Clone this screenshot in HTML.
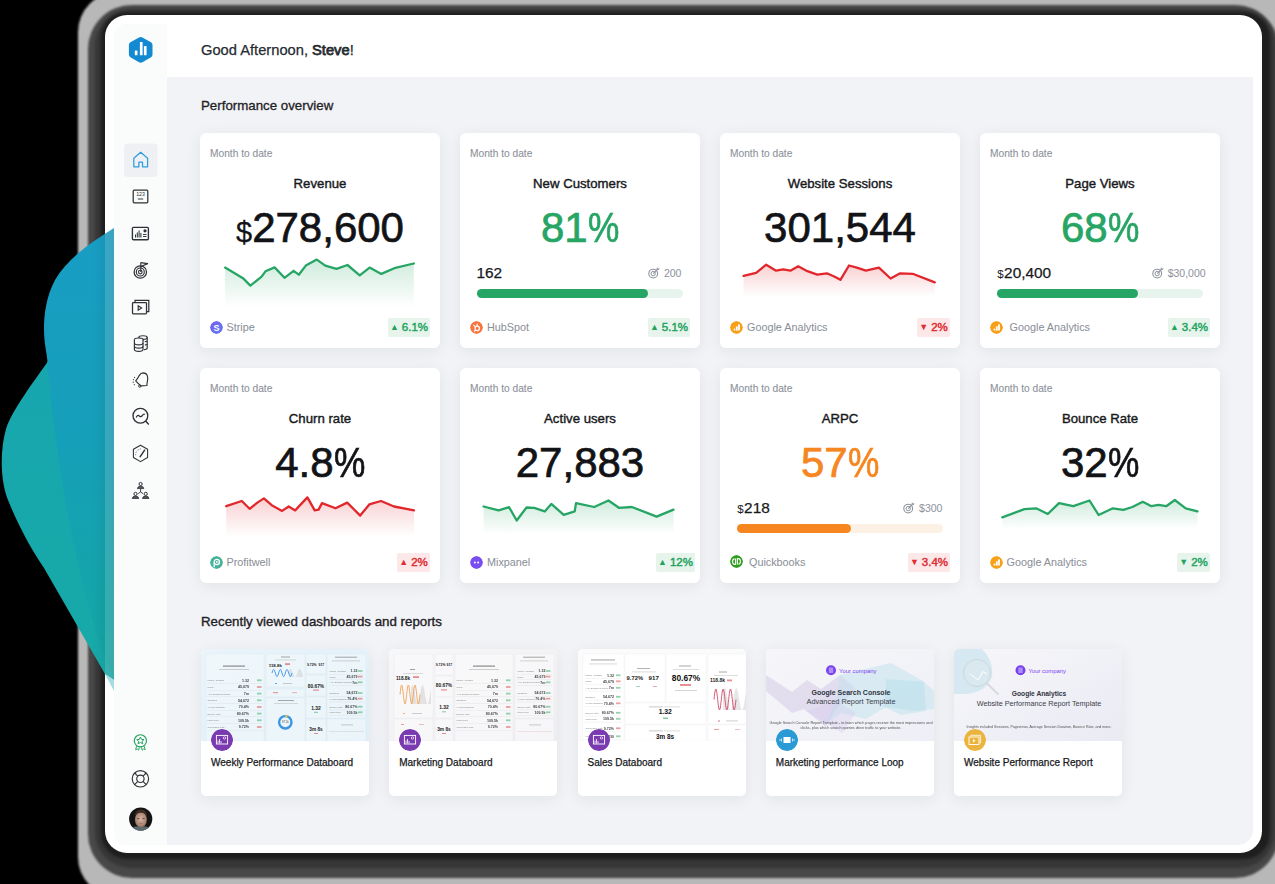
<!DOCTYPE html>
<html><head><meta charset="utf-8"><style>
*{box-sizing:border-box;margin:0;padding:0}
html,body{width:1275px;height:884px;overflow:hidden;background:#000;font-family:"Liberation Sans",sans-serif;color:#1b1d21}
.a{position:absolute}
#so{position:absolute;left:78px;top:-8px;width:1240px;height:905px;border-radius:40px;background:#b8b8b8;filter:blur(1px)}
#d1{position:absolute;left:88px;top:5px;width:1191px;height:873px;border-radius:44px;background:#484848;filter:blur(1.2px)}
#d2{position:absolute;left:95px;top:9px;width:1180px;height:859px;border-radius:36px;background:#363636;filter:blur(1.5px)}
#d3{position:absolute;left:101px;top:12px;width:1169px;height:847px;border-radius:26px;background:#1e1e1e;filter:blur(1.5px)}
#frame{position:absolute;left:105px;top:15px;width:1157px;height:838px;border-radius:22px;background:#fff}
#sidebar{position:absolute;left:114px;top:24px;width:53px;height:821px;background:#fafbfb;border-radius:12px 0 0 12px}
#header{position:absolute;left:167px;top:24px;width:1086px;height:53px;background:#fff}
#main{position:absolute;left:167px;top:77px;width:1086px;height:768px;background:#f2f3f6;border-radius:0 0 15px 0}
.card{position:absolute;width:240px;height:215px;background:#fff;border-radius:6px;box-shadow:0 3px 16px rgba(20,30,50,0.07)}
.mtd{position:absolute;left:10px;top:14.8px;font-size:10.2px;color:#8d929b;white-space:nowrap;-webkit-text-stroke:0.1px #8d929b}
.ttl{position:absolute;left:0;width:240px;top:42.5px;text-align:center;font-size:13.2px;color:#17191c;-webkit-text-stroke:0.4px #17191c;white-space:nowrap}
.big{position:absolute;left:0;width:240px;top:72.3px;text-align:center;font-size:42px;line-height:46px;color:#121316;white-space:nowrap;-webkit-text-stroke:0.7px currentColor}
.big .pc{display:inline-block;transform:scaleX(0.84);transform-origin:0 0;margin-right:-6px}
.big .d{font-size:29px;-webkit-text-stroke:0.3px currentColor}
.spark{position:absolute;left:0;top:0}
.src{position:absolute;left:10px;top:187px;height:14px;font-size:10.8px;color:#8b8f98;white-space:nowrap;line-height:14px;-webkit-text-stroke:0.05px #8b8f98}
.src .ic{position:absolute;left:0;top:0.5px;width:13px;height:13px;border-radius:50%}
.src span.t{position:absolute;left:17px;top:0}
.badge{position:absolute;top:185px;height:19px;border-radius:2px;font-size:11.5px;line-height:19px;text-align:center;white-space:nowrap;-webkit-text-stroke:0.45px currentColor}
.bg{background:#e6f4ec;color:#22a35e}
.br{background:#fde8e9;color:#df2a30}
.tri{display:inline-block;font-size:9px;vertical-align:1px;margin-right:3px;-webkit-text-stroke:0}
.pv{position:absolute;left:16.5px;top:131.2px;font-size:15.4px;color:#17191c;-webkit-text-stroke:0.25px #17191c;white-space:nowrap}
.pv .d{font-size:11.5px;-webkit-text-stroke:0;margin-left:0.8px;margin-right:0.4px}
.goal{position:absolute;right:17px;top:133.6px;font-size:10.5px;color:#8f949d;white-space:nowrap;-webkit-text-stroke:0.05px #8f949d}
.bar{position:absolute;left:17px;top:156px;width:206px;height:9px;border-radius:5px}
.bar i{position:absolute;left:0;top:0;height:9px;border-radius:5px}
.h1{position:absolute;left:201px;top:41.5px;font-size:14.7px;color:#262a31;white-space:nowrap;-webkit-text-stroke:0.25px #262a31}
.h2{position:absolute;left:201px;top:98px;font-size:13.3px;color:#1e2126;-webkit-text-stroke:0.3px #1e2126;white-space:nowrap}
.h3{position:absolute;left:201px;top:614px;font-size:13.3px;color:#1e2126;-webkit-text-stroke:0.35px #1e2126;white-space:nowrap}
.th{position:absolute;top:649px;width:168px;height:147px;background:#fff;border-radius:5px;overflow:hidden;box-shadow:0 3px 16px rgba(20,30,50,0.07)}
.th .img{position:absolute;left:0;top:0;width:168px;height:92px;overflow:hidden}
.th .tic{position:absolute;left:10px;top:80px;width:22px;height:22px;border-radius:50%}
.th .tt{position:absolute;left:10px;top:107.8px;font-size:10px;color:#17191c;-webkit-text-stroke:0.25px #17191c;white-space:nowrap}
.nav{position:absolute;left:128px;width:26px;height:26px}
</style></head><body>

<div id="so"></div>
<div id="d1"></div>
<div id="d2"></div>
<div id="d3"></div>
<div id="frame"></div>
<svg class="a" style="left:0;top:0" width="114" height="884" viewBox="0 0 114 884">
<defs>
<linearGradient id="gb" x1="0" y1="229" x2="0" y2="690" gradientUnits="userSpaceOnUse"><stop offset="0" stop-color="#189dc4"/><stop offset="0.45" stop-color="#169fb9"/><stop offset="0.8" stop-color="#14a5aa"/><stop offset="1" stop-color="#15a6a6"/></linearGradient>
<linearGradient id="gt" x1="0" y1="360" x2="0" y2="690" gradientUnits="userSpaceOnUse"><stop offset="0" stop-color="#17a6ae"/><stop offset="1" stop-color="#17aaa8"/></linearGradient>
<linearGradient id="gs" x1="0" y1="0" x2="114" y2="0" gradientUnits="userSpaceOnUse"><stop offset="0.8" stop-color="#000" stop-opacity="0"/><stop offset="1" stop-color="#000" stop-opacity="0.08"/></linearGradient>
</defs>
<path d="M114 300 L47.5 362 C35 380 12 410 6 429 C0 450 0 480 8 500 C20 530 35 555 44 568 L105 674 L114 680 Z" fill="url(#gt)"/>
<path d="M114 228 C90 243 68 258 55 280 C46 297 44 315 44 329 C44 345 47.5 355 47.5 363 C55 450 75 590 114 680 Z" fill="url(#gb)"/>
<path d="M114 228 C90 243 68 258 55 280 C46 297 44 315 44 329 C44 345 47.5 355 47.5 363 C35 380 12 410 6 429 C0 450 0 480 8 500 C20 530 35 555 44 568 L105 674 L114 680 Z" fill="url(#gs)"/>
<path d="M105 233 L114 227 L114 680 L105 674 Z" fill="#e6ffff" fill-opacity="0.17"/><path d="M105 674 L114 680 L114 691 Z" fill="#9ad8df" fill-opacity="0.9"/>
</svg>
<div id="sidebar"></div>
<div id="header"></div>
<div id="main"></div>


<svg class="a" style="left:0;top:0" width="1275" height="884" viewBox="0 0 1275 884">
<!-- logo -->
<path d="M140.7 36.9 Q141.6 36.9 142.4 37.4 L151 42.3 Q152.5 43.2 152.5 45 L152.5 54.6 Q152.5 56.4 151 57.3 L142.4 62.2 Q140.7 63.1 139 62.2 L130.4 57.3 Q128.9 56.4 128.9 54.6 L128.9 45 Q128.9 43.2 130.4 42.3 L139 37.4 Q139.8 36.9 140.7 36.9 Z" fill="#1389d1"/>
<rect x="134.8" y="50.5" width="2.7" height="4.8" rx="0.5" fill="#fff"/>
<rect x="139.9" y="42" width="2.7" height="13.3" rx="0.5" fill="#fff"/>
<rect x="143.9" y="46.1" width="2.7" height="9.2" rx="0.5" fill="#fff"/>
<!-- home selected -->
<rect x="124" y="143.5" width="33.5" height="33.5" rx="4" fill="#eef0f3"/>
<path d="M133.8 166.8 L133.8 158.2 L140.7 152.3 L147.6 158.2 L147.6 166.8 L142.5 166.8 L142.5 162.2 L138.9 162.2 L138.9 166.8 Z" fill="none" stroke="#2c9de0" stroke-width="1.25" stroke-linejoin="round"/>
<!-- 123 -->
<rect x="133.2" y="190.2" width="14.6" height="12.6" rx="1" fill="none" stroke="#2e3136" stroke-width="1.25"/>
<text x="140.5" y="196.4" font-size="5.2" text-anchor="middle" fill="#2e3136" font-family="Liberation Sans">123</text>
<line x1="137.8" y1="199" x2="143.2" y2="199" stroke="#2e3136" stroke-width="0.95"/>
<!-- chart -->
<rect x="132.4" y="227.3" width="16" height="12.4" rx="1" fill="none" stroke="#2e3136" stroke-width="1.35"/>
<line x1="135.5" y1="237.5" x2="135.5" y2="234.5" stroke="#2e3136" stroke-width="1.05"/>
<line x1="137.3" y1="237.5" x2="137.3" y2="232.5" stroke="#2e3136" stroke-width="1.05"/>
<line x1="139.1" y1="237.5" x2="139.1" y2="230.5" stroke="#2e3136" stroke-width="1.05"/>
<line x1="140.9" y1="237.5" x2="140.9" y2="233" stroke="#2e3136" stroke-width="1.05"/>
<circle cx="145" cy="230.8" r="1.6" fill="#2e3136"/>
<line x1="143" y1="234.5" x2="146.5" y2="234.5" stroke="#2e3136" stroke-width="0.95"/>
<line x1="143" y1="236.5" x2="146.5" y2="236.5" stroke="#2e3136" stroke-width="0.95"/>
<!-- target -->
<circle cx="140.3" cy="272" r="6.2" fill="none" stroke="#2e3136" stroke-width="1.25"/>
<circle cx="140.3" cy="272" r="4" fill="none" stroke="#2e3136" stroke-width="1.15"/>
<circle cx="140.3" cy="272" r="1.8" fill="none" stroke="#2e3136" stroke-width="1.15"/>
<line x1="140.8" y1="272" x2="140.8" y2="262.5" stroke="#2e3136" stroke-width="1.15"/>
<path d="M140.8 262.6 L147.6 263.6 L141 266.5" fill="none" stroke="#2e3136" stroke-width="1.15" stroke-linejoin="round"/>
<!-- video -->
<path d="M135 302 L135 300.3 L148.8 300.3 L148.8 311.5 L146.6 311.5" fill="none" stroke="#2e3136" stroke-width="1.25"/>
<rect x="132.5" y="302.5" width="14" height="11.3" rx="0.8" fill="#fafbfb" stroke="#2e3136" stroke-width="1.25"/>
<path d="M138.2 305.8 L141.6 308 L138.2 310.2 Z" fill="none" stroke="#2e3136" stroke-width="1.15"/>
<!-- database -->
<ellipse cx="143" cy="337.5" rx="4.2" ry="1.8" fill="none" stroke="#2e3136" stroke-width="1.15"/>
<path d="M138.8 337.5 L138.8 348 M147.2 337.5 L147.2 348 Q147.2 349.5 144 349.8" fill="none" stroke="#2e3136" stroke-width="1.15"/>
<path d="M144.8 341.6 Q147.2 341.2 147.2 341 M144.8 345 Q147.2 344.6 147.2 344.4" fill="none" stroke="#2e3136" stroke-width="1.15"/>
<ellipse cx="138.7" cy="339.8" rx="4.3" ry="1.8" fill="#fafbfb" stroke="#2e3136" stroke-width="1.15"/>
<path d="M134.4 339.8 L134.4 349.5 Q134.4 351.3 138.7 351.3 Q143 351.3 143 349.5 L143 339.8" fill="#fafbfb" stroke="#2e3136" stroke-width="1.15"/>
<path d="M134.4 343 Q134.4 344.8 138.7 344.8 Q143 344.8 143 343 M134.4 346.3 Q134.4 348.1 138.7 348.1 Q143 348.1 143 346.3" fill="none" stroke="#2e3136" stroke-width="1.15"/>
<!-- bell -->
<path d="M135.7 380.8 Q137.8 378.6 139.2 375.6 Q140.8 372.9 143.2 372.9 Q146.2 373 147.3 375.6 Q148.3 378.2 147.4 381.4 Q146.9 383.4 146.9 385.5 L141 385.9 Q138.2 383.6 135.7 380.8 Z" fill="none" stroke="#2e3136" stroke-width="1.15" stroke-linejoin="round"/>
<circle cx="139.8" cy="386.1" r="1.15" fill="none" stroke="#2e3136" stroke-width="1"/>
<circle cx="134.5" cy="377.3" r="0.6" fill="#2e3136"/><circle cx="133.4" cy="379.6" r="0.6" fill="#2e3136"/><circle cx="133.2" cy="382.2" r="0.6" fill="#2e3136"/><circle cx="134.3" cy="384.6" r="0.6" fill="#2e3136"/>
<!-- search chart -->
<circle cx="140.4" cy="415.8" r="7.4" fill="none" stroke="#2e3136" stroke-width="1.35"/>
<line x1="145.6" y1="421" x2="148.8" y2="424.4" stroke="#2e3136" stroke-width="1.45"/>
<path d="M136.2 417.4 Q137.6 414.2 139.4 416 Q141 417.8 142.6 415.2 Q143.6 413.6 144.8 414.6" fill="none" stroke="#2e3136" stroke-width="1.25"/>
<!-- hexagon gauge -->
<path d="M140.5 445.2 L147.6 449.3 L147.6 457.5 L140.5 461.6 L133.4 457.5 L133.4 449.3 Z" fill="none" stroke="#2e3136" stroke-width="1.05" stroke-linejoin="round"/>
<line x1="140.2" y1="456.6" x2="144.6" y2="450.2" stroke="#2e3136" stroke-width="1.5" stroke-linecap="round"/>
<path d="M135.6 455.2 Q135.6 449.6 141.8 448.6" fill="none" stroke="#2e3136" stroke-width="0.7" stroke-dasharray="0.9 1.1"/>
<!-- org -->
<circle cx="140.6" cy="484" r="1.6" fill="none" stroke="#2e3136" stroke-width="1"/>
<path d="M137.4 488.6 Q137.6 486.2 140.6 486.2 Q143.6 486.2 143.8 488.6 Z" fill="#55585d" stroke="#2e3136" stroke-width="0.8" stroke-linejoin="round"/>
<line x1="140.6" y1="488.8" x2="140.6" y2="492" stroke="#2e3136" stroke-width="0.9"/>
<line x1="140.6" y1="492" x2="138.2" y2="493.6" stroke="#2e3136" stroke-width="0.9"/>
<line x1="140.6" y1="492" x2="143" y2="493.6" stroke="#2e3136" stroke-width="0.9"/>
<circle cx="135.5" cy="493.9" r="1.6" fill="none" stroke="#2e3136" stroke-width="1"/>
<path d="M132.3 498.5 Q132.5 496.1 135.5 496.1 Q138.5 496.1 138.7 498.5 Z" fill="#55585d" stroke="#2e3136" stroke-width="0.8" stroke-linejoin="round"/>
<circle cx="145.7" cy="493.9" r="1.6" fill="none" stroke="#2e3136" stroke-width="1"/>
<path d="M142.5 498.5 Q142.7 496.1 145.7 496.1 Q148.7 496.1 148.9 498.5 Z" fill="#55585d" stroke="#2e3136" stroke-width="0.8" stroke-linejoin="round"/>
<!-- award -->
<circle cx="140.4" cy="740.8" r="6.1" fill="none" stroke="#22a35e" stroke-width="1.15"/>
<path d="M140.4 737 L141.5 739.4 L144 739.6 L142.1 741.3 L142.7 743.8 L140.4 742.5 L138.1 743.8 L138.7 741.3 L136.8 739.6 L139.3 739.4 Z" fill="none" stroke="#22a35e" stroke-width="1" stroke-linejoin="round"/>
<path d="M136.6 746.2 L135.6 749.6 L137.4 749 L138.6 750.2 L139.4 747.2 M144.2 746.2 L145.2 749.6 L143.4 749 L142.2 750.2 L141.4 747.2" fill="none" stroke="#22a35e" stroke-width="0.95" stroke-linejoin="round"/>
<!-- help -->
<circle cx="140.4" cy="778.8" r="8.2" fill="none" stroke="#2e3136" stroke-width="1.15"/>
<circle cx="140.4" cy="778.8" r="3.7" fill="none" stroke="#2e3136" stroke-width="1.15"/>
<line x1="134.6" y1="773" x2="137.8" y2="776.2" stroke="#2e3136" stroke-width="1.1"/>
<line x1="146.2" y1="773" x2="143" y2="776.2" stroke="#2e3136" stroke-width="1.1"/>
<line x1="134.6" y1="784.6" x2="137.8" y2="781.4" stroke="#2e3136" stroke-width="1.1"/>
<line x1="146.2" y1="784.6" x2="143" y2="781.4" stroke="#2e3136" stroke-width="1.1"/>
<!-- avatar -->
<defs>
<clipPath id="avc"><circle cx="140.7" cy="819" r="11.6"/></clipPath>
<radialGradient id="skin" cx="0.5" cy="0.45" r="0.6"><stop offset="0" stop-color="#d8b5a2"/><stop offset="0.7" stop-color="#aa8573"/><stop offset="1" stop-color="#6a4f40"/></radialGradient>
</defs>
<circle cx="140.7" cy="819" r="11.6" fill="#141414"/>
<g clip-path="url(#avc)">
<path d="M129 833 Q132 826 136.5 826.5 L145 826.5 Q149.5 826 152.5 833 Z" fill="#5b6a70"/>
<ellipse cx="140.9" cy="819.8" rx="6" ry="7.8" fill="url(#skin)"/>
<path d="M134.9 816.5 Q134.6 809.8 140.9 809.5 Q147.2 809.8 146.9 816.5 Q145.5 812.6 140.9 812.8 Q136.3 812.6 134.9 816.5Z" fill="#3e2c22"/>
<path d="M137.2 818.6 L139.4 818.6 M142.4 818.6 L144.6 818.6" stroke="#3a2a22" stroke-width="0.7"/>
<path d="M139.5 823.4 L142.3 823.4" stroke="#8a5a4a" stroke-width="0.6"/>
</g>
</svg>

<div class="h1">Good Afternoon, <b style="font-weight:normal;-webkit-text-stroke:0.75px #262a31">Steve</b>!</div>
<div class="h2">Performance overview</div>
<div class="card" style="left:200px;top:133px">
<div class="mtd">Month to date</div>
<div class="ttl">Revenue</div>
<div class="big" style="color:#121316"><span class="d">$</span>278,600</div>
<svg class="spark" width="240" height="215" viewBox="0 0 240 215">
<defs><linearGradient id="g200_133" x1="0" y1="126.6" x2="0" y2="174.2" gradientUnits="userSpaceOnUse"><stop offset="0" stop-color="#26a564" stop-opacity="0.22"/><stop offset="1" stop-color="#26a564" stop-opacity="0"/></linearGradient></defs>
<path d="M25.1,174.2 L25.1,134.6 L43.4,145.6 L50.4,152.6 L61.6,143.7 L65.5,138.3 L74.6,134.4 L84.5,144.8 L93.6,137.8 L98.8,141.7 L105.8,132.6 L116.8,126.6 L125.3,132.6 L136.5,135.9 L147.5,132.0 L159.7,142.4 L169.6,134.6 L181.3,140.9 L194.3,135.2 L213.8,130.5 L213.8,174.2 Z" fill="url(#g200_133)"/>
<polyline points="25.1,134.6 43.4,145.6 50.4,152.6 61.6,143.7 65.5,138.3 74.6,134.4 84.5,144.8 93.6,137.8 98.8,141.7 105.8,132.6 116.8,126.6 125.3,132.6 136.5,135.9 147.5,132.0 159.7,142.4 169.6,134.6 181.3,140.9 194.3,135.2 213.8,130.5" fill="none" stroke="#26a564" stroke-width="2.3" stroke-linejoin="round" stroke-linecap="round"/>
</svg>
<div class="src"><svg class="ic" width="13" height="13" viewBox="0 0 13 13"><defs><linearGradient id="stg" x1="0" y1="0" x2="1" y2="1"><stop offset="0" stop-color="#7a5cf0"/><stop offset="1" stop-color="#5b7cf5"/></linearGradient></defs><circle cx="6.5" cy="6.5" r="6.5" fill="url(#stg)"/><text x="6.5" y="9.6" font-size="9" font-weight="bold" text-anchor="middle" fill="#fff" font-family="Liberation Sans">S</text></svg><span class="t" style="left:16.5px">Stripe</span></div>
<div class="badge bg" style="left:188px;width:42px"><span class="tri">&#9650;</span>6.1%</div>
</div>
<div class="card" style="left:460px;top:133px">
<div class="mtd">Month to date</div>
<div class="ttl">New Customers</div>
<div class="big" style="color:#26a564">81<span class="pc">%</span></div>
<div class="pv">162</div>
<div class="goal" style="right:18.6px"><svg width="12" height="12" viewBox="0 0 12 12" style="position:absolute;left:-15.8px;top:0.9px"><circle cx="5.2" cy="6.6" r="4.4" fill="none" stroke="#8f949d" stroke-width="1.1"/><circle cx="5.2" cy="6.6" r="2.2" fill="none" stroke="#8f949d" stroke-width="1"/><line x1="5.2" y1="6.6" x2="9.8" y2="2" stroke="#8f949d" stroke-width="1.1"/><path d="M8.6 2.4 L8.9 0.2 L10.1 1.4 L11.9 1.6 L10.4 3.1 Z" fill="#8f949d"/></svg>200</div>
<div class="bar" style="background:#e7f4ed"><i style="width:171px;background:#26a564"></i></div>
<div class="src"><svg class="ic" width="13" height="13" viewBox="0 0 13 13"><circle cx="6.5" cy="6.5" r="6.5" fill="#f8763f"/><circle cx="7.2" cy="7.4" r="2.2" fill="none" stroke="#fff" stroke-width="1.2"/><line x1="7.2" y1="5.2" x2="7.2" y2="2.8" stroke="#fff" stroke-width="1.1"/><line x1="5.6" y1="5.8" x2="3.4" y2="3.8" stroke="#fff" stroke-width="1.1"/><line x1="5.6" y1="9" x2="4" y2="10.6" stroke="#fff" stroke-width="1.1"/></svg><span class="t" style="left:17px">HubSpot</span></div>
<div class="badge bg" style="left:188px;width:42px"><span class="tri">&#9650;</span>5.1%</div>
</div>
<div class="card" style="left:720px;top:133px">
<div class="mtd">Month to date</div>
<div class="ttl">Website Sessions</div>
<div class="big" style="color:#121316">301,544</div>
<svg class="spark" width="240" height="215" viewBox="0 0 240 215">
<defs><linearGradient id="g720_133" x1="0" y1="131.7" x2="0" y2="163.7" gradientUnits="userSpaceOnUse"><stop offset="0" stop-color="#e2272c" stop-opacity="0.22"/><stop offset="1" stop-color="#e2272c" stop-opacity="0"/></linearGradient></defs>
<path d="M23.6,163.7 L23.6,142.9 L36.1,139.8 L46.2,131.7 L56.1,137.7 L63.2,136.4 L70.4,137.7 L78.2,133.3 L87.4,138.2 L97.2,141.6 L106.9,140.3 L114.7,143.7 L120.4,146.8 L129.0,132.5 L136.8,134.6 L145.9,137.7 L158.9,134.6 L170.6,145.5 L180.2,140.3 L192.7,140.8 L214.8,149.4 L214.8,163.7 Z" fill="url(#g720_133)"/>
<polyline points="23.6,142.9 36.1,139.8 46.2,131.7 56.1,137.7 63.2,136.4 70.4,137.7 78.2,133.3 87.4,138.2 97.2,141.6 106.9,140.3 114.7,143.7 120.4,146.8 129.0,132.5 136.8,134.6 145.9,137.7 158.9,134.6 170.6,145.5 180.2,140.3 192.7,140.8 214.8,149.4" fill="none" stroke="#e2272c" stroke-width="2.3" stroke-linejoin="round" stroke-linecap="round"/>
</svg>
<div class="src"><svg class="ic" width="13" height="13" viewBox="0 0 13 13"><circle cx="6.5" cy="6.5" r="6.5" fill="#f7a11a"/><rect x="3.6" y="7.6" width="1.8" height="2" rx="0.9" fill="#fff"/><rect x="5.9" y="5.4" width="1.8" height="4.2" fill="#fff"/><rect x="8.1" y="3.2" width="1.8" height="6.4" rx="0.5" fill="#fff"/></svg><span class="t" style="left:17px">Google Analytics</span></div>
<div class="badge br" style="left:197px;width:33px"><span class="tri">&#9660;</span>2%</div>
</div>
<div class="card" style="left:980px;top:133px">
<div class="mtd">Month to date</div>
<div class="ttl">Page Views</div>
<div class="big" style="color:#26a564">68<span class="pc">%</span></div>
<div class="pv"><span class="d">$</span>20,400</div>
<div class="goal" style="right:14.4px"><svg width="12" height="12" viewBox="0 0 12 12" style="position:absolute;left:-15.8px;top:0.9px"><circle cx="5.2" cy="6.6" r="4.4" fill="none" stroke="#8f949d" stroke-width="1.1"/><circle cx="5.2" cy="6.6" r="2.2" fill="none" stroke="#8f949d" stroke-width="1"/><line x1="5.2" y1="6.6" x2="9.8" y2="2" stroke="#8f949d" stroke-width="1.1"/><path d="M8.6 2.4 L8.9 0.2 L10.1 1.4 L11.9 1.6 L10.4 3.1 Z" fill="#8f949d"/></svg>$30,000</div>
<div class="bar" style="background:#e7f4ed"><i style="width:141px;background:#26a564"></i></div>
<div class="src"><svg class="ic" width="13" height="13" viewBox="0 0 13 13"><circle cx="6.5" cy="6.5" r="6.5" fill="#f7a11a"/><rect x="3.6" y="7.6" width="1.8" height="2" rx="0.9" fill="#fff"/><rect x="5.9" y="5.4" width="1.8" height="4.2" fill="#fff"/><rect x="8.1" y="3.2" width="1.8" height="6.4" rx="0.5" fill="#fff"/></svg><span class="t" style="left:19.6px">Google Analytics</span></div>
<div class="badge bg" style="left:188px;width:42px"><span class="tri">&#9650;</span>3.4%</div>
</div>
<div class="card" style="left:200px;top:368px">
<div class="mtd">Month to date</div>
<div class="ttl">Churn rate</div>
<div class="big" style="color:#121316">4.8<span class="pc">%</span></div>
<svg class="spark" width="240" height="215" viewBox="0 0 240 215">
<defs><linearGradient id="g200_368" x1="0" y1="129.4" x2="0" y2="168.9" gradientUnits="userSpaceOnUse"><stop offset="0" stop-color="#e2272c" stop-opacity="0.22"/><stop offset="1" stop-color="#e2272c" stop-opacity="0"/></linearGradient></defs>
<path d="M26.2,168.9 L26.2,138.2 L41.8,133.0 L49.6,140.8 L57.4,134.6 L63.9,130.4 L71.7,137.2 L82.1,142.9 L88.7,138.5 L95.2,142.4 L107.4,129.4 L114.7,142.4 L118.6,141.6 L122.0,135.1 L135.5,140.3 L147.2,134.6 L160.2,147.6 L169.3,136.4 L181.0,133.0 L194.0,138.5 L214.0,142.4 L214.0,168.9 Z" fill="url(#g200_368)"/>
<polyline points="26.2,138.2 41.8,133.0 49.6,140.8 57.4,134.6 63.9,130.4 71.7,137.2 82.1,142.9 88.7,138.5 95.2,142.4 107.4,129.4 114.7,142.4 118.6,141.6 122.0,135.1 135.5,140.3 147.2,134.6 160.2,147.6 169.3,136.4 181.0,133.0 194.0,138.5 214.0,142.4" fill="none" stroke="#e2272c" stroke-width="2.3" stroke-linejoin="round" stroke-linecap="round"/>
</svg>
<div class="src"><svg class="ic" width="13" height="13" viewBox="0 0 13 13"><circle cx="6.5" cy="6.5" r="6.5" fill="#44b39a"/><circle cx="6.8" cy="6" r="2.6" fill="none" stroke="#fff" stroke-width="1.3"/><path d="M4.2 6 L4.2 11.2" stroke="#fff" stroke-width="1.3"/><circle cx="6.8" cy="6" r="0.9" fill="#fff"/></svg><span class="t" style="left:16.5px">Profitwell</span></div>
<div class="badge br" style="left:197px;width:33px"><span class="tri">&#9650;</span>2%</div>
</div>
<div class="card" style="left:460px;top:368px">
<div class="mtd">Month to date</div>
<div class="ttl">Active users</div>
<div class="big" style="color:#121316">27,883</div>
<svg class="spark" width="240" height="215" viewBox="0 0 240 215">
<defs><linearGradient id="g460_368" x1="0" y1="132.5" x2="0" y2="166.3" gradientUnits="userSpaceOnUse"><stop offset="0" stop-color="#26a564" stop-opacity="0.22"/><stop offset="1" stop-color="#26a564" stop-opacity="0"/></linearGradient></defs>
<path d="M23.6,166.3 L23.6,138.5 L38.7,142.4 L49.1,139.2 L56.7,152.5 L66.5,139.5 L74.3,139.8 L84.8,143.4 L91.3,135.9 L103.7,146.8 L114.7,143.4 L116.0,135.1 L134.2,139.0 L148.5,132.5 L158.9,139.8 L171.9,139.0 L196.6,148.6 L213.5,141.6 L213.5,166.3 Z" fill="url(#g460_368)"/>
<polyline points="23.6,138.5 38.7,142.4 49.1,139.2 56.7,152.5 66.5,139.5 74.3,139.8 84.8,143.4 91.3,135.9 103.7,146.8 114.7,143.4 116.0,135.1 134.2,139.0 148.5,132.5 158.9,139.8 171.9,139.0 196.6,148.6 213.5,141.6" fill="none" stroke="#26a564" stroke-width="2.3" stroke-linejoin="round" stroke-linecap="round"/>
</svg>
<div class="src"><svg class="ic" width="13" height="13" viewBox="0 0 13 13"><circle cx="6.5" cy="6.5" r="6.5" fill="#7a4df3"/><circle cx="4.9" cy="6.6" r="1" fill="#fff"/><circle cx="8.1" cy="6.6" r="1" fill="#fff"/></svg><span class="t" style="left:17px">Mixpanel</span></div>
<div class="badge bg" style="left:196px;width:39px"><span class="tri">&#9650;</span>12%</div>
</div>
<div class="card" style="left:720px;top:368px">
<div class="mtd">Month to date</div>
<div class="ttl">ARPC</div>
<div class="big" style="color:#f6861f">57<span class="pc">%</span></div>
<div class="pv"><span class="d">$</span>218</div>
<div class="goal" style="right:17.6px"><svg width="12" height="12" viewBox="0 0 12 12" style="position:absolute;left:-15.8px;top:0.9px"><circle cx="5.2" cy="6.6" r="4.4" fill="none" stroke="#8f949d" stroke-width="1.1"/><circle cx="5.2" cy="6.6" r="2.2" fill="none" stroke="#8f949d" stroke-width="1"/><line x1="5.2" y1="6.6" x2="9.8" y2="2" stroke="#8f949d" stroke-width="1.1"/><path d="M8.6 2.4 L8.9 0.2 L10.1 1.4 L11.9 1.6 L10.4 3.1 Z" fill="#8f949d"/></svg>$300</div>
<div class="bar" style="background:#fdf1e6"><i style="width:114px;background:#f6861f"></i></div>
<div class="src"><svg class="ic" width="14" height="14" viewBox="0 0 13 13" style="top:0"><circle cx="6.5" cy="6.5" r="6.5" fill="#2ca01c"/><path d="M5.6 3.6 L5.6 9.4 L4.6 9.4 Q2.6 9.4 2.6 6.5 Q2.6 3.9 4.6 3.9" fill="none" stroke="#fff" stroke-width="1.1"/><path d="M7.4 9.4 L7.4 3.6 L8.4 3.6 Q10.4 3.6 10.4 6.5 Q10.4 9.1 8.4 9.1" fill="none" stroke="#fff" stroke-width="1.1"/></svg><span class="t" style="left:19px">Quickbooks</span></div>
<div class="badge br" style="left:188px;width:42px"><span class="tri">&#9660;</span>3.4%</div>
</div>
<div class="card" style="left:980px;top:368px">
<div class="mtd">Month to date</div>
<div class="ttl">Bounce Rate</div>
<div class="big" style="color:#121316">32<span class="pc">%</span></div>
<svg class="spark" width="240" height="215" viewBox="0 0 240 215">
<defs><linearGradient id="g980_368" x1="0" y1="132.0" x2="0" y2="161.1" gradientUnits="userSpaceOnUse"><stop offset="0" stop-color="#26a564" stop-opacity="0.22"/><stop offset="1" stop-color="#26a564" stop-opacity="0"/></linearGradient></defs>
<path d="M22.3,161.1 L22.3,149.4 L44.4,141.1 L56.1,140.3 L67.8,146.0 L79.0,135.1 L93.3,138.2 L109.5,132.5 L118.6,147.0 L132.9,140.3 L143.3,141.8 L152.4,139.0 L162.8,133.8 L171.4,138.2 L178.4,136.9 L186.2,138.2 L194.8,132.0 L205.7,140.3 L217.4,143.4 L217.4,161.1 Z" fill="url(#g980_368)"/>
<polyline points="22.3,149.4 44.4,141.1 56.1,140.3 67.8,146.0 79.0,135.1 93.3,138.2 109.5,132.5 118.6,147.0 132.9,140.3 143.3,141.8 152.4,139.0 162.8,133.8 171.4,138.2 178.4,136.9 186.2,138.2 194.8,132.0 205.7,140.3 217.4,143.4" fill="none" stroke="#26a564" stroke-width="2.3" stroke-linejoin="round" stroke-linecap="round"/>
</svg>
<div class="src"><svg class="ic" width="13" height="13" viewBox="0 0 13 13"><circle cx="6.5" cy="6.5" r="6.5" fill="#f7a11a"/><rect x="3.6" y="7.6" width="1.8" height="2" rx="0.9" fill="#fff"/><rect x="5.9" y="5.4" width="1.8" height="4.2" fill="#fff"/><rect x="8.1" y="3.2" width="1.8" height="6.4" rx="0.5" fill="#fff"/></svg><span class="t" style="left:16.6px">Google Analytics</span></div>
<div class="badge bg" style="left:197px;width:33px"><span class="tri">&#9660;</span>2%</div>
</div>
<div class="h3">Recently viewed dashboards and reports</div>
<div class="th" style="left:201px"><svg class="img" width="168" height="92" viewBox="0 0 168 92"><defs><linearGradient id="t1bg" x1="0" y1="0" x2="1" y2="1"><stop offset="0" stop-color="#eaf4fa"/><stop offset="1" stop-color="#ddeef8"/></linearGradient></defs><rect x="0" y="0" width="168" height="92" fill="url(#t1bg)" fill-opacity="1" rx="0"/><rect x="5" y="5" width="58" height="87" fill="#f4f9fc" fill-opacity="0.55" rx="1" stroke="#d4e3ec" stroke-width="0.3"/><rect x="65" y="5" width="39" height="33" fill="#f4f9fc" fill-opacity="0.55" rx="1" stroke="#d4e3ec" stroke-width="0.3"/><rect x="65" y="40" width="39" height="8" fill="#f4f9fc" fill-opacity="0.55" rx="1" stroke="#d4e3ec" stroke-width="0.3"/><rect x="65" y="49" width="39" height="43" fill="#f4f9fc" fill-opacity="0.55" rx="1" stroke="#d4e3ec" stroke-width="0.3"/><rect x="105" y="5" width="20" height="20" fill="#f4f9fc" fill-opacity="0.55" rx="1" stroke="#d4e3ec" stroke-width="0.3"/><rect x="105" y="26" width="20" height="21" fill="#f4f9fc" fill-opacity="0.55" rx="1" stroke="#d4e3ec" stroke-width="0.3"/><rect x="105" y="48" width="20" height="21" fill="#f4f9fc" fill-opacity="0.55" rx="1" stroke="#d4e3ec" stroke-width="0.3"/><rect x="105" y="70" width="20" height="22" fill="#f4f9fc" fill-opacity="0.55" rx="1" stroke="#d4e3ec" stroke-width="0.3"/><rect x="126" y="5" width="39" height="64" fill="#f4f9fc" fill-opacity="0.55" rx="1" stroke="#d4e3ec" stroke-width="0.3"/><rect x="126" y="70" width="39" height="22" fill="#f4f9fc" fill-opacity="0.55" rx="1" stroke="#d4e3ec" stroke-width="0.3"/><rect x="22" y="16.5" width="22" height="1.2" fill="#444" fill-opacity="0.6" rx="0"/><rect x="18" y="20" width="30" height="0.9" fill="#999" fill-opacity="0.5" rx="0"/><text x="6.5" y="32.4" font-size="2.3" fill="#666" text-anchor="start" font-family="Liberation Sans" opacity="0.8">Pages / Session</text><text x="48" y="32.6" font-size="3.6" fill="#222" text-anchor="end" font-family="Liberation Sans" font-weight="bold" opacity="0.85">1.32</text><rect x="56" y="30.4" width="4.5" height="1.8" fill="#4cb877" fill-opacity="0.6" rx="0"/><rect x="6" y="34.4" width="56" height="0.3" fill="#ccc" fill-opacity="0.6" rx="0"/><text x="6.5" y="39.1" font-size="2.3" fill="#666" text-anchor="start" font-family="Liberation Sans" opacity="0.8">Users</text><text x="48" y="39.300000000000004" font-size="3.6" fill="#222" text-anchor="end" font-family="Liberation Sans" font-weight="bold" opacity="0.85">45,679</text><rect x="56" y="37.1" width="4.5" height="1.8" fill="#e26060" fill-opacity="0.6" rx="0"/><rect x="6" y="41.1" width="56" height="0.3" fill="#ccc" fill-opacity="0.6" rx="0"/><text x="6.5" y="45.699999999999996" font-size="2.3" fill="#666" text-anchor="start" font-family="Liberation Sans" opacity="0.8">Avg. Session Duration</text><text x="48" y="45.9" font-size="3.6" fill="#222" text-anchor="end" font-family="Liberation Sans" font-weight="bold" opacity="0.85">7m</text><rect x="56" y="43.699999999999996" width="4.5" height="1.8" fill="#4cb877" fill-opacity="0.6" rx="0"/><rect x="6" y="47.699999999999996" width="56" height="0.3" fill="#ccc" fill-opacity="0.6" rx="0"/><text x="6.5" y="52.4" font-size="2.3" fill="#666" text-anchor="start" font-family="Liberation Sans" opacity="0.8">Sessions</text><text x="48" y="52.6" font-size="3.6" fill="#222" text-anchor="end" font-family="Liberation Sans" font-weight="bold" opacity="0.85">54,672</text><rect x="56" y="50.4" width="4.5" height="1.8" fill="#4cb877" fill-opacity="0.6" rx="0"/><rect x="6" y="54.4" width="56" height="0.3" fill="#ccc" fill-opacity="0.6" rx="0"/><text x="6.5" y="59.1" font-size="2.3" fill="#666" text-anchor="start" font-family="Liberation Sans" opacity="0.8">% New Sessions</text><text x="48" y="59.300000000000004" font-size="3.6" fill="#222" text-anchor="end" font-family="Liberation Sans" font-weight="bold" opacity="0.85">70.4%</text><rect x="56" y="57.1" width="4.5" height="1.8" fill="#e26060" fill-opacity="0.6" rx="0"/><rect x="6" y="61.1" width="56" height="0.3" fill="#ccc" fill-opacity="0.6" rx="0"/><text x="6.5" y="65.7" font-size="2.3" fill="#666" text-anchor="start" font-family="Liberation Sans" opacity="0.8">Bounce Rate</text><text x="48" y="65.89999999999999" font-size="3.6" fill="#222" text-anchor="end" font-family="Liberation Sans" font-weight="bold" opacity="0.85">80.67%</text><rect x="56" y="63.699999999999996" width="4.5" height="1.8" fill="#4cb877" fill-opacity="0.6" rx="0"/><rect x="6" y="67.7" width="56" height="0.3" fill="#ccc" fill-opacity="0.6" rx="0"/><text x="6.5" y="72.4" font-size="2.3" fill="#666" text-anchor="start" font-family="Liberation Sans" opacity="0.8">Pageviews</text><text x="48" y="72.6" font-size="3.6" fill="#222" text-anchor="end" font-family="Liberation Sans" font-weight="bold" opacity="0.85">109.5k</text><rect x="56" y="70.4" width="4.5" height="1.8" fill="#4cb877" fill-opacity="0.6" rx="0"/><rect x="6" y="74.4" width="56" height="0.3" fill="#ccc" fill-opacity="0.6" rx="0"/><text x="6.5" y="79.10000000000001" font-size="2.3" fill="#666" text-anchor="start" font-family="Liberation Sans" opacity="0.8">Conversion Rate</text><text x="48" y="79.3" font-size="3.6" fill="#222" text-anchor="end" font-family="Liberation Sans" font-weight="bold" opacity="0.85">9.72%</text><rect x="56" y="77.10000000000001" width="4.5" height="1.8" fill="#e26060" fill-opacity="0.6" rx="0"/><rect x="6" y="81.10000000000001" width="56" height="0.3" fill="#ccc" fill-opacity="0.6" rx="0"/><rect x="80" y="7.5" width="9" height="1" fill="#555" fill-opacity="0.5" rx="0"/><rect x="74" y="10.5" width="21" height="0.8" fill="#aaa" fill-opacity="0.5" rx="0"/><text x="67.7" y="17.8" font-size="4.4" fill="#222" text-anchor="start" font-family="Liberation Sans" font-weight="bold" opacity="1">118.8k</text><rect x="84" y="14.2" width="5" height="1.8" fill="#e06060" fill-opacity="0.7" rx="0"/><polygon points="88.00,28.00 88.00,21.74 88.23,21.25 88.47,20.83 88.70,20.49 88.93,20.23 89.17,20.07 89.40,20.00 89.63,20.03 89.87,20.16 90.10,20.39 90.33,20.70 90.57,21.09 90.80,21.56 91.03,22.08 91.27,22.66 91.50,23.26 91.73,23.89 91.97,24.51 92.20,25.13 92.43,25.71 92.67,26.26 92.90,26.75 93.13,27.17 93.37,27.51 93.60,27.77 93.83,27.93 94.07,28.00 94.30,27.97 94.53,27.84 94.77,27.61 95.00,27.30 95.23,26.91 95.47,26.44 95.70,25.92 95.93,25.34 96.17,24.74 96.40,24.11 96.63,23.49 96.87,22.87 97.10,22.29 97.33,21.74 97.57,21.25 97.80,20.83 98.03,20.49 98.27,20.23 98.50,20.07 98.73,20.00 98.97,20.03 99.20,20.16 99.43,20.39 99.67,20.70 99.90,21.09 100.13,21.56 100.37,22.08 100.60,22.66 100.83,23.26 101.07,23.89 101.30,24.51 101.53,25.13 101.77,25.71 102.00,26.26 102.00,28.00" fill="#bbb" fill-opacity="0.35"/><polyline points="71.00,24.00 71.33,22.92 71.67,21.94 72.00,21.17 72.33,20.67 72.67,20.50 73.00,20.67 73.33,21.17 73.67,21.94 74.00,22.92 74.33,24.00 74.67,25.08 75.00,26.06 75.33,26.83 75.67,27.33 76.00,27.50 76.33,27.33 76.67,26.83 77.00,26.06 77.33,25.08 77.67,24.00 78.00,22.92 78.33,21.94 78.67,21.17 79.00,20.67 79.33,20.50 79.67,20.67 80.00,21.17 80.33,21.94 80.67,22.92 81.00,24.00 81.33,25.08 81.67,26.06 82.00,26.83 82.33,27.33 82.67,27.50 83.00,27.33 83.33,26.83 83.67,26.06 84.00,25.08 84.33,24.00 84.67,22.92 85.00,21.94 85.33,21.17 85.67,20.67 86.00,20.50 86.33,20.67 86.67,21.17 87.00,21.94 87.33,22.92 87.67,24.00 88.00,25.08 88.33,26.06 88.67,26.83 89.00,27.33 89.33,27.50 89.67,27.33 90.00,26.83 90.33,26.06 90.67,25.08 91.00,24.00" fill="none" stroke="#3a93e6" stroke-width="0.9"/><rect x="74" y="34" width="2" height="1" fill="#3a93e6" fill-opacity="0.8" rx="0"/><rect x="82" y="34" width="9" height="0.8" fill="#888" fill-opacity="0.5" rx="0"/><rect x="72" y="43" width="5" height="1.2" fill="#e06060" fill-opacity="0.6" rx="0"/><rect x="91" y="43" width="5" height="1.2" fill="#e08080" fill-opacity="0.5" rx="0"/><rect x="77" y="51" width="16" height="1" fill="#555" fill-opacity="0.5" rx="0"/><rect x="73" y="54" width="24" height="0.8" fill="#aaa" fill-opacity="0.5" rx="0"/><circle cx="84.3" cy="73.3" r="6.2" fill="none" stroke="#3b94e4" stroke-width="2.4"/><path d="M84.3 67.1 A6.2 6.2 0 0 1 86.5 67.5" fill="none" stroke="#e8c23a" stroke-width="2.4"/><text x="84.3" y="74.3" font-size="2.6" fill="#333" text-anchor="middle" font-family="Liberation Sans" opacity="1">97.1k</text><text x="106" y="17.4" font-size="3.4" fill="#222" text-anchor="start" font-family="Liberation Sans" font-weight="bold" opacity="1">9.72%</text><text x="117.5" y="17.4" font-size="3.4" fill="#222" text-anchor="start" font-family="Liberation Sans" font-weight="bold" opacity="1">917</text><text x="115" y="38.8" font-size="4.8" fill="#222" text-anchor="middle" font-family="Liberation Sans" font-weight="bold" opacity="1">80.67%</text><rect x="112" y="40.5" width="6" height="1.2" fill="#e06060" fill-opacity="0.7" rx="0"/><text x="115" y="60.8" font-size="4.9" fill="#222" text-anchor="middle" font-family="Liberation Sans" font-weight="bold" opacity="1">1.32</text><rect x="113" y="62.8" width="4" height="1" fill="#4cb877" fill-opacity="0.7" rx="0"/><text x="115" y="82" font-size="4.7" fill="#222" text-anchor="middle" font-family="Liberation Sans" font-weight="bold" opacity="1">3m 8s</text><rect x="113" y="84" width="4" height="1" fill="#e06060" fill-opacity="0.7" rx="0"/><rect x="134" y="7.7" width="22" height="1" fill="#555" fill-opacity="0.5" rx="0"/><rect x="131" y="11.5" width="28" height="0.8" fill="#999" fill-opacity="0.5" rx="0"/><text x="128.5" y="23.099999999999998" font-size="2.3" fill="#666" text-anchor="start" font-family="Liberation Sans" opacity="0.8">Pages / Session</text><text x="156.5" y="23.3" font-size="3.6" fill="#222" text-anchor="end" font-family="Liberation Sans" font-weight="bold" opacity="0.85">1.32</text><rect x="157" y="21.099999999999998" width="4.5" height="1.8" fill="#4cb877" fill-opacity="0.6" rx="0"/><rect x="128" y="25.099999999999998" width="35" height="0.3" fill="#ccc" fill-opacity="0.6" rx="0"/><text x="128.5" y="28.7" font-size="2.3" fill="#666" text-anchor="start" font-family="Liberation Sans" opacity="0.8">Users</text><text x="156.5" y="28.900000000000002" font-size="3.6" fill="#222" text-anchor="end" font-family="Liberation Sans" font-weight="bold" opacity="0.85">45,679</text><rect x="157" y="26.7" width="4.5" height="1.8" fill="#e26060" fill-opacity="0.6" rx="0"/><rect x="128" y="30.7" width="35" height="0.3" fill="#ccc" fill-opacity="0.6" rx="0"/><text x="128.5" y="34.4" font-size="2.3" fill="#666" text-anchor="start" font-family="Liberation Sans" opacity="0.8">Avg. Session Duration</text><text x="156.5" y="34.6" font-size="3.6" fill="#222" text-anchor="end" font-family="Liberation Sans" font-weight="bold" opacity="0.85">7m</text><rect x="157" y="32.4" width="4.5" height="1.8" fill="#4cb877" fill-opacity="0.6" rx="0"/><rect x="128" y="36.4" width="35" height="0.3" fill="#ccc" fill-opacity="0.6" rx="0"/><text x="128.5" y="45.1" font-size="2.3" fill="#666" text-anchor="start" font-family="Liberation Sans" opacity="0.8">Sessions</text><text x="156.5" y="45.300000000000004" font-size="3.6" fill="#222" text-anchor="end" font-family="Liberation Sans" font-weight="bold" opacity="0.85">54,672</text><rect x="157" y="43.1" width="4.5" height="1.8" fill="#4cb877" fill-opacity="0.6" rx="0"/><rect x="128" y="47.1" width="35" height="0.3" fill="#ccc" fill-opacity="0.6" rx="0"/><text x="128.5" y="50.8" font-size="2.3" fill="#666" text-anchor="start" font-family="Liberation Sans" opacity="0.8">% New Sessions</text><text x="156.5" y="51.0" font-size="3.6" fill="#222" text-anchor="end" font-family="Liberation Sans" font-weight="bold" opacity="0.85">70.4%</text><rect x="157" y="48.8" width="4.5" height="1.8" fill="#e26060" fill-opacity="0.6" rx="0"/><rect x="128" y="52.8" width="35" height="0.3" fill="#ccc" fill-opacity="0.6" rx="0"/><text x="128.5" y="58.8" font-size="2.3" fill="#666" text-anchor="start" font-family="Liberation Sans" opacity="0.8">Bounce Rate</text><text x="156.5" y="59.0" font-size="3.6" fill="#222" text-anchor="end" font-family="Liberation Sans" font-weight="bold" opacity="0.85">80.67%</text><rect x="157" y="56.8" width="4.5" height="1.8" fill="#4cb877" fill-opacity="0.6" rx="0"/><rect x="128" y="60.8" width="35" height="0.3" fill="#ccc" fill-opacity="0.6" rx="0"/><text x="128.5" y="64.4" font-size="2.3" fill="#666" text-anchor="start" font-family="Liberation Sans" opacity="0.8">Pageviews</text><text x="156.5" y="64.6" font-size="3.6" fill="#222" text-anchor="end" font-family="Liberation Sans" font-weight="bold" opacity="0.85">109.5k</text><rect x="157" y="62.4" width="4.5" height="1.8" fill="#4cb877" fill-opacity="0.6" rx="0"/><rect x="128" y="66.4" width="35" height="0.3" fill="#ccc" fill-opacity="0.6" rx="0"/><rect x="140" y="75.5" width="12" height="0.8" fill="#888" fill-opacity="0.5" rx="0"/><rect x="128" y="82" width="35" height="0.7" fill="#ccc" fill-opacity="0.7" rx="0"/></svg><svg class="tic" width="22" height="22" viewBox="0 0 22 22"><circle cx="11" cy="11" r="11" fill="#7a3bb0"/><rect x="5.4" y="6.4" width="11.2" height="8.6" fill="none" stroke="#fff" stroke-width="0.9"/><path d="M7 14.4 L7 11.5 M8.5 14.4 L8.5 10 M10 14.4 L10 12" stroke="#fff" stroke-width="0.8"/><circle cx="13.5" cy="9" r="1.2" fill="none" stroke="#fff" stroke-width="0.7"/></svg><div class="tt">Weekly Performance Databoard</div></div>
<div class="th" style="left:389.2px"><svg class="img" width="168" height="92" viewBox="0 0 168 92"><defs><linearGradient id="t2bg" x1="0" y1="0" x2="1" y2="1"><stop offset="0" stop-color="#f7f7f9"/><stop offset="1" stop-color="#eeeef2"/></linearGradient></defs><rect x="0" y="0" width="168" height="92" fill="url(#t2bg)" fill-opacity="1" rx="0"/><rect x="5" y="5" width="39" height="64" fill="#fafafb" fill-opacity="0.7" rx="1" stroke="#e2e2e6" stroke-width="0.3"/><rect x="5" y="70" width="39" height="22" fill="#fafafb" fill-opacity="0.7" rx="1" stroke="#e2e2e6" stroke-width="0.3"/><rect x="46" y="5" width="18" height="21" fill="#fafafb" fill-opacity="0.7" rx="1" stroke="#e2e2e6" stroke-width="0.3"/><rect x="46" y="27" width="18" height="21" fill="#fafafb" fill-opacity="0.7" rx="1" stroke="#e2e2e6" stroke-width="0.3"/><rect x="46" y="48" width="18" height="21" fill="#fafafb" fill-opacity="0.7" rx="1" stroke="#e2e2e6" stroke-width="0.3"/><rect x="46" y="70" width="18" height="22" fill="#fafafb" fill-opacity="0.7" rx="1" stroke="#e2e2e6" stroke-width="0.3"/><rect x="66" y="5" width="58" height="87" fill="#fafafb" fill-opacity="0.7" rx="1" stroke="#e2e2e6" stroke-width="0.3"/><rect x="126" y="5" width="39" height="64" fill="#fafafb" fill-opacity="0.7" rx="1" stroke="#e2e2e6" stroke-width="0.3"/><rect x="126" y="70" width="39" height="22" fill="#fafafb" fill-opacity="0.7" rx="1" stroke="#e2e2e6" stroke-width="0.3"/><rect x="21" y="20" width="5" height="1" fill="#444" fill-opacity="0.5" rx="0"/><rect x="14" y="24" width="20" height="0.8" fill="#aaa" fill-opacity="0.5" rx="0"/><text x="7" y="30.5" font-size="4.7" fill="#222" text-anchor="start" font-family="Liberation Sans" font-weight="bold" opacity="1">118.8k</text><rect x="24" y="27.2" width="6" height="1.8" fill="#e06060" fill-opacity="0.7" rx="0"/><polygon points="22.00,55.00 22.00,40.14 22.33,38.62 22.67,37.41 23.00,36.55 23.33,36.08 23.67,36.03 24.00,36.39 24.33,37.14 24.67,38.26 25.00,39.70 25.33,41.39 25.67,43.26 26.00,45.23 26.33,47.21 26.67,49.12 27.00,50.86 27.33,52.38 27.67,53.59 28.00,54.45 28.33,54.92 28.67,54.97 29.00,54.61 29.33,53.86 29.67,52.74 30.00,51.30 30.33,49.61 30.67,47.74 31.00,45.77 31.33,43.79 31.67,41.88 32.00,40.14 32.33,38.62 32.67,37.41 33.00,36.55 33.33,36.08 33.67,36.03 34.00,36.39 34.33,37.14 34.67,38.26 35.00,39.70 35.33,41.39 35.67,43.26 36.00,45.23 36.33,47.21 36.67,49.12 37.00,50.86 37.33,52.38 37.67,53.59 38.00,54.45 38.33,54.92 38.67,54.97 39.00,54.61 39.33,53.86 39.67,52.74 40.00,51.30 40.33,49.61 40.67,47.74 41.00,45.77 41.33,43.79 41.67,41.88 42.00,40.14 42.00,55.00" fill="#bbb" fill-opacity="0.35"/><polyline points="11.00,45.50 11.33,42.56 11.67,39.92 12.00,37.81 12.33,36.46 12.67,36.00 13.00,36.46 13.33,37.81 13.67,39.92 14.00,42.56 14.33,45.50 14.67,48.44 15.00,51.08 15.33,53.19 15.67,54.54 16.00,55.00 16.33,54.54 16.67,53.19 17.00,51.08 17.33,48.44 17.67,45.50 18.00,42.56 18.33,39.92 18.67,37.81 19.00,36.46 19.33,36.00 19.67,36.46 20.00,37.81 20.33,39.92 20.67,42.56 21.00,45.50 21.33,48.44 21.67,51.08 22.00,53.19 22.33,54.54 22.67,55.00 23.00,54.54 23.33,53.19 23.67,51.08 24.00,48.44 24.33,45.50 24.67,42.56 25.00,39.92 25.33,37.81 25.67,36.46 26.00,36.00 26.33,36.46 26.67,37.81 27.00,39.92 27.33,42.56 27.67,45.50 28.00,48.44 28.33,51.08 28.67,53.19 29.00,54.54 29.33,55.00 29.67,54.54 30.00,53.19 30.33,51.08 30.67,48.44 31.00,45.50" fill="none" stroke="#f0a050" stroke-width="0.9"/><rect x="14" y="64" width="2" height="1" fill="#f0a050" fill-opacity="0.8" rx="0"/><rect x="23" y="64" width="10" height="0.8" fill="#888" fill-opacity="0.5" rx="0"/><rect x="12" y="75" width="3" height="1" fill="#e06060" fill-opacity="0.6" rx="0"/><rect x="30" y="75" width="5" height="1" fill="#e08080" fill-opacity="0.5" rx="0"/><text x="46.8" y="16.5" font-size="3.4" fill="#222" text-anchor="start" font-family="Liberation Sans" font-weight="bold" opacity="1">9.72%</text><text x="57.5" y="16.5" font-size="3.4" fill="#222" text-anchor="start" font-family="Liberation Sans" font-weight="bold" opacity="1">917</text><text x="55" y="37.7" font-size="4.8" fill="#222" text-anchor="middle" font-family="Liberation Sans" font-weight="bold" opacity="1">80.67%</text><rect x="52" y="40.3" width="6" height="1.2" fill="#e06060" fill-opacity="0.7" rx="0"/><text x="55" y="59.7" font-size="4.9" fill="#222" text-anchor="middle" font-family="Liberation Sans" font-weight="bold" opacity="1">1.32</text><rect x="53" y="62.3" width="4" height="1" fill="#4cb877" fill-opacity="0.7" rx="0"/><text x="55" y="81.7" font-size="4.8" fill="#222" text-anchor="middle" font-family="Liberation Sans" font-weight="bold" opacity="1">3m 8s</text><rect x="53" y="84" width="4" height="1" fill="#e06060" fill-opacity="0.7" rx="0"/><rect x="84" y="16.5" width="22" height="1.2" fill="#444" fill-opacity="0.6" rx="0"/><rect x="80" y="20" width="30" height="0.9" fill="#999" fill-opacity="0.5" rx="0"/><text x="67.5" y="32.4" font-size="2.3" fill="#666" text-anchor="start" font-family="Liberation Sans" opacity="0.8">Pages / Session</text><text x="109" y="32.6" font-size="3.6" fill="#222" text-anchor="end" font-family="Liberation Sans" font-weight="bold" opacity="0.85">1.32</text><rect x="117" y="30.4" width="4.5" height="1.8" fill="#4cb877" fill-opacity="0.6" rx="0"/><rect x="67" y="34.4" width="56" height="0.3" fill="#ccc" fill-opacity="0.6" rx="0"/><text x="67.5" y="39.1" font-size="2.3" fill="#666" text-anchor="start" font-family="Liberation Sans" opacity="0.8">Users</text><text x="109" y="39.300000000000004" font-size="3.6" fill="#222" text-anchor="end" font-family="Liberation Sans" font-weight="bold" opacity="0.85">45,679</text><rect x="117" y="37.1" width="4.5" height="1.8" fill="#e26060" fill-opacity="0.6" rx="0"/><rect x="67" y="41.1" width="56" height="0.3" fill="#ccc" fill-opacity="0.6" rx="0"/><text x="67.5" y="45.699999999999996" font-size="2.3" fill="#666" text-anchor="start" font-family="Liberation Sans" opacity="0.8">Avg. Session Duration</text><text x="109" y="45.9" font-size="3.6" fill="#222" text-anchor="end" font-family="Liberation Sans" font-weight="bold" opacity="0.85">7m</text><rect x="117" y="43.699999999999996" width="4.5" height="1.8" fill="#4cb877" fill-opacity="0.6" rx="0"/><rect x="67" y="47.699999999999996" width="56" height="0.3" fill="#ccc" fill-opacity="0.6" rx="0"/><text x="67.5" y="52.4" font-size="2.3" fill="#666" text-anchor="start" font-family="Liberation Sans" opacity="0.8">Sessions</text><text x="109" y="52.6" font-size="3.6" fill="#222" text-anchor="end" font-family="Liberation Sans" font-weight="bold" opacity="0.85">54,672</text><rect x="117" y="50.4" width="4.5" height="1.8" fill="#4cb877" fill-opacity="0.6" rx="0"/><rect x="67" y="54.4" width="56" height="0.3" fill="#ccc" fill-opacity="0.6" rx="0"/><text x="67.5" y="59.1" font-size="2.3" fill="#666" text-anchor="start" font-family="Liberation Sans" opacity="0.8">% New Sessions</text><text x="109" y="59.300000000000004" font-size="3.6" fill="#222" text-anchor="end" font-family="Liberation Sans" font-weight="bold" opacity="0.85">70.4%</text><rect x="117" y="57.1" width="4.5" height="1.8" fill="#e26060" fill-opacity="0.6" rx="0"/><rect x="67" y="61.1" width="56" height="0.3" fill="#ccc" fill-opacity="0.6" rx="0"/><text x="67.5" y="65.7" font-size="2.3" fill="#666" text-anchor="start" font-family="Liberation Sans" opacity="0.8">Bounce Rate</text><text x="109" y="65.89999999999999" font-size="3.6" fill="#222" text-anchor="end" font-family="Liberation Sans" font-weight="bold" opacity="0.85">80.67%</text><rect x="117" y="63.699999999999996" width="4.5" height="1.8" fill="#4cb877" fill-opacity="0.6" rx="0"/><rect x="67" y="67.7" width="56" height="0.3" fill="#ccc" fill-opacity="0.6" rx="0"/><text x="67.5" y="72.4" font-size="2.3" fill="#666" text-anchor="start" font-family="Liberation Sans" opacity="0.8">Pageviews</text><text x="109" y="72.6" font-size="3.6" fill="#222" text-anchor="end" font-family="Liberation Sans" font-weight="bold" opacity="0.85">109.5k</text><rect x="117" y="70.4" width="4.5" height="1.8" fill="#4cb877" fill-opacity="0.6" rx="0"/><rect x="67" y="74.4" width="56" height="0.3" fill="#ccc" fill-opacity="0.6" rx="0"/><text x="67.5" y="79.10000000000001" font-size="2.3" fill="#666" text-anchor="start" font-family="Liberation Sans" opacity="0.8">Conversion Rate</text><text x="109" y="79.3" font-size="3.6" fill="#222" text-anchor="end" font-family="Liberation Sans" font-weight="bold" opacity="0.85">9.72%</text><rect x="117" y="77.10000000000001" width="4.5" height="1.8" fill="#e26060" fill-opacity="0.6" rx="0"/><rect x="67" y="81.10000000000001" width="56" height="0.3" fill="#ccc" fill-opacity="0.6" rx="0"/><rect x="134" y="7.7" width="22" height="1" fill="#555" fill-opacity="0.5" rx="0"/><rect x="131" y="11.5" width="28" height="0.8" fill="#999" fill-opacity="0.5" rx="0"/><text x="128.5" y="23.099999999999998" font-size="2.3" fill="#666" text-anchor="start" font-family="Liberation Sans" opacity="0.8">Pages / Session</text><text x="156.5" y="23.3" font-size="3.6" fill="#222" text-anchor="end" font-family="Liberation Sans" font-weight="bold" opacity="0.85">1.32</text><rect x="157" y="21.099999999999998" width="4.5" height="1.8" fill="#4cb877" fill-opacity="0.6" rx="0"/><rect x="128" y="25.099999999999998" width="35" height="0.3" fill="#ccc" fill-opacity="0.6" rx="0"/><text x="128.5" y="28.7" font-size="2.3" fill="#666" text-anchor="start" font-family="Liberation Sans" opacity="0.8">Users</text><text x="156.5" y="28.900000000000002" font-size="3.6" fill="#222" text-anchor="end" font-family="Liberation Sans" font-weight="bold" opacity="0.85">45,679</text><rect x="157" y="26.7" width="4.5" height="1.8" fill="#e26060" fill-opacity="0.6" rx="0"/><rect x="128" y="30.7" width="35" height="0.3" fill="#ccc" fill-opacity="0.6" rx="0"/><text x="128.5" y="34.4" font-size="2.3" fill="#666" text-anchor="start" font-family="Liberation Sans" opacity="0.8">Avg. Session Duration</text><text x="156.5" y="34.6" font-size="3.6" fill="#222" text-anchor="end" font-family="Liberation Sans" font-weight="bold" opacity="0.85">7m</text><rect x="157" y="32.4" width="4.5" height="1.8" fill="#4cb877" fill-opacity="0.6" rx="0"/><rect x="128" y="36.4" width="35" height="0.3" fill="#ccc" fill-opacity="0.6" rx="0"/><text x="128.5" y="45.1" font-size="2.3" fill="#666" text-anchor="start" font-family="Liberation Sans" opacity="0.8">Sessions</text><text x="156.5" y="45.300000000000004" font-size="3.6" fill="#222" text-anchor="end" font-family="Liberation Sans" font-weight="bold" opacity="0.85">54,672</text><rect x="157" y="43.1" width="4.5" height="1.8" fill="#4cb877" fill-opacity="0.6" rx="0"/><rect x="128" y="47.1" width="35" height="0.3" fill="#ccc" fill-opacity="0.6" rx="0"/><text x="128.5" y="50.8" font-size="2.3" fill="#666" text-anchor="start" font-family="Liberation Sans" opacity="0.8">% New Sessions</text><text x="156.5" y="51.0" font-size="3.6" fill="#222" text-anchor="end" font-family="Liberation Sans" font-weight="bold" opacity="0.85">70.4%</text><rect x="157" y="48.8" width="4.5" height="1.8" fill="#e26060" fill-opacity="0.6" rx="0"/><rect x="128" y="52.8" width="35" height="0.3" fill="#ccc" fill-opacity="0.6" rx="0"/><text x="128.5" y="58.8" font-size="2.3" fill="#666" text-anchor="start" font-family="Liberation Sans" opacity="0.8">Bounce Rate</text><text x="156.5" y="59.0" font-size="3.6" fill="#222" text-anchor="end" font-family="Liberation Sans" font-weight="bold" opacity="0.85">80.67%</text><rect x="157" y="56.8" width="4.5" height="1.8" fill="#4cb877" fill-opacity="0.6" rx="0"/><rect x="128" y="60.8" width="35" height="0.3" fill="#ccc" fill-opacity="0.6" rx="0"/><text x="128.5" y="64.4" font-size="2.3" fill="#666" text-anchor="start" font-family="Liberation Sans" opacity="0.8">Pageviews</text><text x="156.5" y="64.6" font-size="3.6" fill="#222" text-anchor="end" font-family="Liberation Sans" font-weight="bold" opacity="0.85">109.5k</text><rect x="157" y="62.4" width="4.5" height="1.8" fill="#4cb877" fill-opacity="0.6" rx="0"/><rect x="128" y="66.4" width="35" height="0.3" fill="#ccc" fill-opacity="0.6" rx="0"/><rect x="140" y="75.5" width="12" height="0.8" fill="#888" fill-opacity="0.5" rx="0"/><rect x="128" y="82" width="35" height="0.7" fill="#e7c9c9" fill-opacity="0.7" rx="0"/></svg><svg class="tic" width="22" height="22" viewBox="0 0 22 22"><circle cx="11" cy="11" r="11" fill="#7a3bb0"/><rect x="5.4" y="6.4" width="11.2" height="8.6" fill="none" stroke="#fff" stroke-width="0.9"/><path d="M7 14.4 L7 11.5 M8.5 14.4 L8.5 10 M10 14.4 L10 12" stroke="#fff" stroke-width="0.8"/><circle cx="13.5" cy="9" r="1.2" fill="none" stroke="#fff" stroke-width="0.7"/></svg><div class="tt">Marketing Databoard</div></div>
<div class="th" style="left:577.5px"><svg class="img" width="168" height="92" viewBox="0 0 168 92"><rect x="0" y="0" width="168" height="92" fill="#fbfbfc" fill-opacity="1" rx="0"/><rect x="5" y="5" width="41" height="87" fill="#ffffff" fill-opacity="1" rx="1" stroke="#ececef" stroke-width="0.3"/><rect x="47" y="5" width="40" height="48" fill="#ffffff" fill-opacity="1" rx="1" stroke="#ececef" stroke-width="0.3"/><rect x="88" y="5" width="40" height="48" fill="#ffffff" fill-opacity="1" rx="1" stroke="#ececef" stroke-width="0.3"/><rect x="47" y="54" width="81" height="21" fill="#ffffff" fill-opacity="1" rx="1" stroke="#ececef" stroke-width="0.3"/><rect x="47" y="76" width="81" height="16" fill="#ffffff" fill-opacity="1" rx="1" stroke="#ececef" stroke-width="0.3"/><rect x="130" y="5" width="38" height="70" fill="#ffffff" fill-opacity="1" rx="1" stroke="#ececef" stroke-width="0.3"/><rect x="130" y="76" width="38" height="16" fill="#ffffff" fill-opacity="1" rx="1" stroke="#ececef" stroke-width="0.3"/><rect x="13" y="10.5" width="24" height="0.9" fill="#444" fill-opacity="0.55" rx="0"/><rect x="11" y="14.5" width="28" height="0.9" fill="#aaa" fill-opacity="0.5" rx="0"/><text x="7.5" y="27.4" font-size="2.3" fill="#666" text-anchor="start" font-family="Liberation Sans" opacity="0.8">Pages / Session</text><text x="36" y="27.6" font-size="3.6" fill="#222" text-anchor="end" font-family="Liberation Sans" font-weight="bold" opacity="0.85">1.32</text><rect x="38" y="25.4" width="4.5" height="1.8" fill="#4cb877" fill-opacity="0.6" rx="0"/><rect x="7" y="29.4" width="37" height="0.3" fill="#ccc" fill-opacity="0.6" rx="0"/><text x="7.5" y="33.4" font-size="2.3" fill="#666" text-anchor="start" font-family="Liberation Sans" opacity="0.8">Users</text><text x="36" y="33.6" font-size="3.6" fill="#222" text-anchor="end" font-family="Liberation Sans" font-weight="bold" opacity="0.85">45,679</text><rect x="38" y="31.4" width="4.5" height="1.8" fill="#e26060" fill-opacity="0.6" rx="0"/><rect x="7" y="35.4" width="37" height="0.3" fill="#ccc" fill-opacity="0.6" rx="0"/><text x="7.5" y="39.9" font-size="2.3" fill="#666" text-anchor="start" font-family="Liberation Sans" opacity="0.8">Avg. Session Duration</text><text x="36" y="40.1" font-size="3.6" fill="#222" text-anchor="end" font-family="Liberation Sans" font-weight="bold" opacity="0.85">7m</text><rect x="38" y="37.9" width="4.5" height="1.8" fill="#4cb877" fill-opacity="0.6" rx="0"/><rect x="7" y="41.9" width="37" height="0.3" fill="#ccc" fill-opacity="0.6" rx="0"/><text x="7.5" y="48.9" font-size="2.3" fill="#666" text-anchor="start" font-family="Liberation Sans" opacity="0.8">Sessions</text><text x="36" y="49.1" font-size="3.6" fill="#222" text-anchor="end" font-family="Liberation Sans" font-weight="bold" opacity="0.85">54,672</text><rect x="38" y="46.9" width="4.5" height="1.8" fill="#4cb877" fill-opacity="0.6" rx="0"/><rect x="7" y="50.9" width="37" height="0.3" fill="#ccc" fill-opacity="0.6" rx="0"/><text x="7.5" y="55.4" font-size="2.3" fill="#666" text-anchor="start" font-family="Liberation Sans" opacity="0.8">% New Sessions</text><text x="36" y="55.6" font-size="3.6" fill="#222" text-anchor="end" font-family="Liberation Sans" font-weight="bold" opacity="0.85">70.4%</text><rect x="38" y="53.4" width="4.5" height="1.8" fill="#e26060" fill-opacity="0.6" rx="0"/><rect x="7" y="57.4" width="37" height="0.3" fill="#ccc" fill-opacity="0.6" rx="0"/><text x="7.5" y="64.9" font-size="2.3" fill="#666" text-anchor="start" font-family="Liberation Sans" opacity="0.8">Bounce Rate</text><text x="36" y="65.1" font-size="3.6" fill="#222" text-anchor="end" font-family="Liberation Sans" font-weight="bold" opacity="0.85">80.67%</text><rect x="38" y="62.9" width="4.5" height="1.8" fill="#4cb877" fill-opacity="0.6" rx="0"/><rect x="7" y="66.9" width="37" height="0.3" fill="#ccc" fill-opacity="0.6" rx="0"/><text x="7.5" y="70.9" font-size="2.3" fill="#666" text-anchor="start" font-family="Liberation Sans" opacity="0.8">Pageviews</text><text x="36" y="71.1" font-size="3.6" fill="#222" text-anchor="end" font-family="Liberation Sans" font-weight="bold" opacity="0.85">109.5k</text><rect x="38" y="68.9" width="4.5" height="1.8" fill="#4cb877" fill-opacity="0.6" rx="0"/><rect x="7" y="72.9" width="37" height="0.3" fill="#ccc" fill-opacity="0.6" rx="0"/><text x="7.5" y="80.4" font-size="2.3" fill="#666" text-anchor="start" font-family="Liberation Sans" opacity="0.8">Conversion Rate</text><text x="36" y="80.6" font-size="3.6" fill="#222" text-anchor="end" font-family="Liberation Sans" font-weight="bold" opacity="0.85">9.72%</text><rect x="38" y="78.4" width="4.5" height="1.8" fill="#e26060" fill-opacity="0.6" rx="0"/><rect x="7" y="82.4" width="37" height="0.3" fill="#ccc" fill-opacity="0.6" rx="0"/><text x="7.5" y="88.4" font-size="2.3" fill="#666" text-anchor="start" font-family="Liberation Sans" opacity="0.8">Pages / Session</text><text x="36" y="88.6" font-size="3.6" fill="#222" text-anchor="end" font-family="Liberation Sans" font-weight="bold" opacity="0.85">14,230</text><rect x="38" y="86.4" width="4.5" height="1.8" fill="#4cb877" fill-opacity="0.6" rx="0"/><rect x="7" y="90.4" width="37" height="0.3" fill="#ccc" fill-opacity="0.6" rx="0"/><rect x="59" y="19" width="13" height="0.9" fill="#555" fill-opacity="0.5" rx="0"/><rect x="54" y="22.5" width="24" height="0.8" fill="#aaa" fill-opacity="0.5" rx="0"/><text x="48.6" y="31" font-size="5.8" fill="#222" text-anchor="start" font-family="Liberation Sans" font-weight="bold" opacity="1">9.72%</text><text x="70.6" y="31" font-size="6.2" fill="#222" text-anchor="start" font-family="Liberation Sans" font-weight="bold" opacity="1">917</text><rect x="58" y="37" width="4" height="0.8" fill="#4cb877" fill-opacity="0.7" rx="0"/><rect x="75" y="37" width="4" height="0.8" fill="#e06060" fill-opacity="0.7" rx="0"/><rect x="101" y="16.5" width="12" height="1" fill="#555" fill-opacity="0.5" rx="0"/><rect x="95" y="20" width="26" height="0.8" fill="#aaa" fill-opacity="0.5" rx="0"/><text x="108" y="31.7" font-size="8.4" fill="#111" text-anchor="middle" font-family="Liberation Sans" font-weight="bold" opacity="1">80.67%</text><rect x="102" y="35" width="11" height="2" fill="#e06060" fill-opacity="0.7" rx="0"/><rect x="97" y="41" width="22" height="0.8" fill="#999" fill-opacity="0.5" rx="0"/><rect x="71" y="57.5" width="14" height="0.8" fill="#777" fill-opacity="0.5" rx="0"/><rect x="86" y="57.5" width="16" height="0.8" fill="#aaa" fill-opacity="0.5" rx="0"/><text x="87.3" y="65" font-size="6.8" fill="#111" text-anchor="middle" font-family="Liberation Sans" font-weight="bold" opacity="1">1.32</text><rect x="85" y="68.5" width="5" height="1.5" fill="#4cb877" fill-opacity="0.7" rx="0"/><rect x="71" y="81.5" width="14" height="0.8" fill="#777" fill-opacity="0.5" rx="0"/><rect x="86" y="81.5" width="16" height="0.8" fill="#aaa" fill-opacity="0.5" rx="0"/><text x="87" y="89.7" font-size="6.4" fill="#111" text-anchor="middle" font-family="Liberation Sans" font-weight="bold" opacity="1">3m 8s</text><rect x="141" y="22.5" width="8" height="1" fill="#555" fill-opacity="0.5" rx="0"/><rect x="136" y="26" width="24" height="0.8" fill="#aaa" fill-opacity="0.5" rx="0"/><text x="132" y="33.4" font-size="5.0" fill="#222" text-anchor="start" font-family="Liberation Sans" font-weight="bold" opacity="1">118.8k</text><rect x="149" y="30.5" width="5" height="1.8" fill="#e06060" fill-opacity="0.7" rx="0"/><polygon points="145.00,61.00 145.00,43.79 145.38,42.04 145.77,40.63 146.15,39.64 146.53,39.10 146.92,39.03 147.30,39.45 147.68,40.32 148.07,41.62 148.45,43.28 148.83,45.24 149.22,47.41 149.60,49.69 149.98,51.98 150.37,54.19 150.75,56.21 151.13,57.96 151.52,59.37 151.90,60.36 152.28,60.90 152.67,60.97 153.05,60.55 153.43,59.68 153.82,58.38 154.20,56.72 154.58,54.76 154.97,52.59 155.35,50.31 155.73,48.02 156.12,45.81 156.50,43.79 156.88,42.04 157.27,40.63 157.65,39.64 158.03,39.10 158.42,39.03 158.80,39.45 159.18,40.32 159.57,41.62 159.95,43.28 160.33,45.24 160.72,47.41 161.10,49.69 161.48,51.98 161.87,54.19 162.25,56.21 162.63,57.96 163.02,59.37 163.40,60.36 163.78,60.90 164.17,60.97 164.55,60.55 164.93,59.68 165.32,58.38 165.70,56.72 166.08,54.76 166.47,52.59 166.85,50.31 167.23,48.02 167.62,45.81 168.00,43.79 168.00,61.00" fill="#bbb" fill-opacity="0.35"/><polyline points="136.00,50.50 136.37,47.26 136.73,44.33 137.10,42.01 137.47,40.51 137.83,40.00 138.20,40.51 138.57,42.01 138.93,44.33 139.30,47.26 139.67,50.50 140.03,53.74 140.40,56.67 140.77,58.99 141.13,60.49 141.50,61.00 141.87,60.49 142.23,58.99 142.60,56.67 142.97,53.74 143.33,50.50 143.70,47.26 144.07,44.33 144.43,42.01 144.80,40.51 145.17,40.00 145.53,40.51 145.90,42.01 146.27,44.33 146.63,47.26 147.00,50.50 147.37,53.74 147.73,56.67 148.10,58.99 148.47,60.49 148.83,61.00 149.20,60.49 149.57,58.99 149.93,56.67 150.30,53.74 150.67,50.50 151.03,47.26 151.40,44.33 151.77,42.01 152.13,40.51 152.50,40.00 152.87,40.51 153.23,42.01 153.60,44.33 153.97,47.26 154.33,50.50 154.70,53.74 155.07,56.67 155.43,58.99 155.80,60.49 156.17,61.00 156.53,60.49 156.90,58.99 157.27,56.67 157.63,53.74 158.00,50.50" fill="none" stroke="#d04a6a" stroke-width="0.9"/><rect x="140" y="71.5" width="2" height="1" fill="#d04a6a" fill-opacity="0.8" rx="0"/><rect x="148" y="71.5" width="12" height="0.8" fill="#888" fill-opacity="0.5" rx="0"/><rect x="136" y="80" width="5" height="1" fill="#e06060" fill-opacity="0.6" rx="0"/><rect x="157" y="80" width="5" height="1" fill="#e08080" fill-opacity="0.5" rx="0"/></svg><svg class="tic" width="22" height="22" viewBox="0 0 22 22"><circle cx="11" cy="11" r="11" fill="#7a3bb0"/><rect x="5.4" y="6.4" width="11.2" height="8.6" fill="none" stroke="#fff" stroke-width="0.9"/><path d="M7 14.4 L7 11.5 M8.5 14.4 L8.5 10 M10 14.4 L10 12" stroke="#fff" stroke-width="0.8"/><circle cx="13.5" cy="9" r="1.2" fill="none" stroke="#fff" stroke-width="0.7"/></svg><div class="tt">Sales Databoard</div></div>
<div class="th" style="left:765.8px"><svg class="img" width="168" height="92" viewBox="0 0 168 92"><defs><linearGradient id="t4bg" x1="0" y1="0" x2="1" y2="1"><stop offset="0" stop-color="#f6f6f9"/><stop offset="1" stop-color="#eeeff6"/></linearGradient></defs><rect x="0" y="0" width="168" height="92" fill="url(#t4bg)" fill-opacity="1" rx="0"/><polygon points="0,26 26,43 41,31 55,40 74,26 90,40 70,60 60,78 38,60 26,64 0,42" fill="#cfc3e3" fill-opacity="0.45"/><polygon points="74,26 125,14 157,32 168,42 168,60 147,62 120,58 100,70 75,64 60,75 70,50" fill="#bfe1ee" fill-opacity="0.5"/><polygon points="120,30 158,33 160,62 135,66 118,58" fill="#a8dde8" fill-opacity="0.35"/><polygon points="40,62 70,52 90,64 76,84" fill="#d5c8ee" fill-opacity="0.35"/><circle cx="65" cy="21.3" r="5" fill="#7b3ff0"/><rect x="62.8" y="18.5" width="4.4" height="5.6" fill="#a990f7" fill-opacity="1" rx="0.5"/><text x="73" y="23.5" font-size="5.9" fill="#7b3ff0" text-anchor="start" font-family="Liberation Sans" opacity="1">Your company</text><text x="85" y="46" font-size="7.0" fill="#2f3440" text-anchor="middle" font-family="Liberation Sans" font-weight="bold" opacity="1">Google Search Console</text><text x="85" y="55" font-size="7.4" fill="#3b404a" text-anchor="middle" font-family="Liberation Sans" opacity="1">Advanced Report Template</text><text x="85" y="75.2" font-size="3.75" fill="#333" text-anchor="middle" font-family="Liberation Sans" opacity="0.85">Google Search Console Report Template - to learn which pages receive the most impressions and</text><text x="85" y="80.2" font-size="3.75" fill="#333" text-anchor="middle" font-family="Liberation Sans" opacity="0.85">clicks, plus which search queries drive traffic to your website.</text></svg><svg class="tic" width="22" height="22" viewBox="0 0 22 22"><circle cx="11" cy="11" r="11" fill="#2a9ad4"/><rect x="7.5" y="8" width="7" height="6" fill="#fff"/><path d="M5.5 9.5 L5.5 12.5 M4 10 L4 12 M16.5 9.5 L16.5 12.5 M18 10 L18 12" stroke="#fff" stroke-width="0.7"/></svg><div class="tt">Marketing performance Loop</div></div>
<div class="th" style="left:954px"><svg class="img" width="168" height="92" viewBox="0 0 168 92"><defs><linearGradient id="t5bg" x1="0" y1="0" x2="1" y2="1"><stop offset="0" stop-color="#f7f7fa"/><stop offset="1" stop-color="#e9eaf3"/></linearGradient></defs><rect x="0" y="0" width="168" height="92" fill="url(#t5bg)" fill-opacity="1" rx="0"/><path d="M0 0 L28 0 Q40 12 38 28 Q32 44 10 45 L0 45 Z" fill="#d3e7f0" fill-opacity="0.9"/><circle cx="23" cy="24" r="13.5" fill="#dbe7ef" fill-opacity="0.8" stroke="#cfd6dc" stroke-width="1"/><line x1="33" y1="34.5" x2="44" y2="45" stroke="#d6dadf" stroke-width="1.8" stroke-linecap="round"/><polyline points="16,25 24,31 29,22.5 33,25" fill="none" stroke="#fff" stroke-width="1"/><circle cx="66.5" cy="21.3" r="5" fill="#7b3ff0"/><rect x="64.3" y="18.5" width="4.4" height="5.6" fill="#a990f7" fill-opacity="1" rx="0.5"/><text x="74.5" y="23.5" font-size="5.9" fill="#7b3ff0" text-anchor="start" font-family="Liberation Sans" opacity="1">Your company</text><text x="85" y="46.5" font-size="6.7" fill="#2f3440" text-anchor="middle" font-family="Liberation Sans" font-weight="bold" opacity="1">Google Analytics</text><text x="85" y="56.5" font-size="7.25" fill="#3b404a" text-anchor="middle" font-family="Liberation Sans" opacity="1">Website Performance Report Template</text><text x="85" y="78.5" font-size="3.57" fill="#333" text-anchor="middle" font-family="Liberation Sans" opacity="0.85">Insights included Sessions, Pageviews, Average Session Duration, Bounce Rate, and more.</text></svg><svg class="tic" width="22" height="22" viewBox="0 0 22 22"><circle cx="11" cy="11" r="11" fill="#ebb43e"/><rect x="5" y="8" width="10" height="7.5" fill="none" stroke="#fff" stroke-width="0.9"/><path d="M6.8 7.4 L6.8 6.3 L16.6 6.3 L16.6 14 L15.6 14" fill="none" stroke="#fff" stroke-width="0.8"/><path d="M9 10 L11.5 11.8 L9 13.4Z" fill="#fff"/></svg><div class="tt">Website Performance Report</div></div>
</body></html>
